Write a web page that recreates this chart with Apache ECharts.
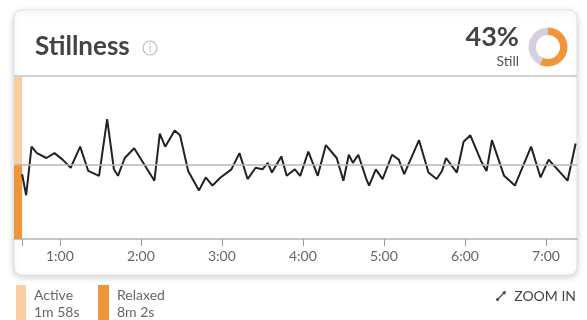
<!DOCTYPE html>
<html>
<head>
<meta charset="utf-8">
<script src="https://cdn.jsdelivr.net/npm/echarts@6/dist/echarts.min.js"></script>
<style>
  html, body { margin: 0; padding: 0; background: #fff; }
  #chart { width: 587px; height: 320px; }
</style>
</head>
<body>
<div id="chart"></div>
<script>
// time (s) of each stillness sample
var secs = [32, 35, 39, 43, 50, 56, 62, 68, 75, 81, 89, 95, 100, 103, 108, 115,
  130, 134, 138, 145, 149, 155, 163, 168, 173, 179, 187, 193, 199, 205, 210, 214,
  217, 224, 228, 234, 238, 244, 251, 257, 265, 270, 274, 277, 281, 287, 289, 294,
  299, 306, 311, 315, 326, 333, 339, 343, 346, 354, 359, 364, 372, 376, 380, 389,
  397, 409, 416, 422, 436, 442]
// stillness score 0..100
var stillness = [40, 27, 57, 53, 50, 53, 49, 44, 57, 42, 39, 74, 43, 39, 50, 56,
  36, 65, 57, 67, 64, 42, 30, 38, 33, 38, 43, 53, 37, 44, 43, 47,
  41, 51, 39, 43, 39, 54, 39, 58, 50, 36, 52, 47, 52, 37, 33, 43,
  37, 52, 49, 40, 61, 41, 37, 42, 50, 41, 60, 64, 48, 42, 61, 39,
  33, 57, 38, 49, 36, 59]
var threshold = 46
var tickSecs = [32, 60, 120, 180, 240, 300, 360, 420]
var labelSecs = [60, 120, 180, 240, 300, 360, 420]
var tickLabels = ['1:00', '2:00', '3:00', '4:00', '5:00', '6:00', '7:00']
var donutNames = ['Moving', 'Still']
var donutValues = [57, 43]

var orange = '#f1953a'
var lightOrange = '#f8cfa2'
var font = 'Lato'

var chart = echarts.init(document.getElementById('chart'))

var option = {
  animation: false,
  backgroundColor: '#fff',
  grid: {
    left: 14,
    right: 10,
    top: 77,
    bottom: 81
  },
  xAxis: {
    type: 'value',
    min: 26,
    max: 443,
    axisLine: { show: true, lineStyle: { color: '#c6c6c6', width: 2 } },
    axisTick: {
      show: true,
      customValues: tickSecs,
      length: 7,
      lineStyle: { color: '#9a9a9a', width: 1 }
    },
    axisLabel: {
      customValues: labelSecs,
      formatter: function (v) {
        return tickLabels[labelSecs.indexOf(v)]
      },
      color: '#666',
      fontSize: 14,
      fontFamily: font,
      margin: 10
    },
    splitLine: { show: false }
  },
  yAxis: {
    type: 'value',
    min: 0,
    max: 100,
    show: false
  },
  series: [
    {
      name: 'Stillness',
      type: 'line',
      symbol: 'none',
      data: secs.map(function (s, i) { return [s, stillness[i]] }),
      lineStyle: { color: '#222', width: 2 },
      markLine: {
        silent: true,
        symbol: 'none',
        label: { show: false },
        lineStyle: { color: '#b8b8b8', type: 'solid', width: 1.5 },
        data: [{ yAxis: threshold }]
      },
      markArea: {
        silent: true,
        data: [
          [{ xAxis: 26, yAxis: threshold, itemStyle: { color: lightOrange } }, { xAxis: 32, yAxis: 100 }],
          [{ xAxis: 26, yAxis: 0, itemStyle: { color: orange } }, { xAxis: 32, yAxis: threshold }]
        ]
      }
    },
    {
      type: 'pie',
      silent: true,
      center: [548, 47],
      radius: [12, 19.5],
      startAngle: 90,
      clockwise: true,
      label: { show: false },
      labelLine: { show: false },
      data: [
        { name: donutNames[0], value: donutValues[0], itemStyle: { color: orange } },
        { name: donutNames[1], value: donutValues[1], itemStyle: { color: '#d6cfe0' } }
      ]
    }
  ],
  graphic: [
    // card
    {
      type: 'rect',
      z: -10,
      shape: { x: 14, y: 10, width: 563, height: 265, r: 8 },
      style: {
        fill: '#fff',
        stroke: '#e2e2e2',
        lineWidth: 1,
        shadowBlur: 6,
        shadowOffsetY: 2,
        shadowColor: 'rgba(0,0,0,0.18)'
      }
    },
    // header separator
    {
      type: 'line',
      z: 5,
      shape: { x1: 14, y1: 76, x2: 577, y2: 76 },
      style: { stroke: '#d2d2d2', lineWidth: 2 }
    },
    {
      type: 'text',
      x: 35,
      y: 47,
      style: { text: 'Stillness', font: 'bold 26px ' + font, fill: '#444', verticalAlign: 'middle' }
    },
    // info icon
    {
      type: 'circle',
      shape: { cx: 150, cy: 48, r: 7 },
      style: { fill: 'none', stroke: '#bdbdbd', lineWidth: 1.2 }
    },
    {
      type: 'text',
      x: 150,
      y: 48,
      style: { text: 'i', font: '11px ' + font, fill: '#bdbdbd', align: 'center', verticalAlign: 'middle' }
    },
    {
      type: 'text',
      x: 519,
      y: 37,
      style: { text: donutValues[1] + '%', font: 'bold 27px ' + font, fill: '#444', align: 'right', verticalAlign: 'middle' }
    },
    {
      type: 'text',
      x: 519,
      y: 61,
      style: { text: 'Still', font: '14px ' + font, fill: '#555', align: 'right', verticalAlign: 'middle' }
    },
    // bottom legend
    {
      type: 'rect',
      shape: { x: 16, y: 285, width: 10, height: 40 },
      style: { fill: lightOrange }
    },
    {
      type: 'text',
      x: 34,
      y: 295,
      style: { text: 'Active', font: '14px ' + font, fill: '#666', verticalAlign: 'middle' }
    },
    {
      type: 'text',
      x: 34,
      y: 312,
      style: { text: '1m 58s', font: '14px ' + font, fill: '#666', verticalAlign: 'middle' }
    },
    {
      type: 'rect',
      shape: { x: 98, y: 285, width: 11, height: 40 },
      style: { fill: orange }
    },
    {
      type: 'text',
      x: 117,
      y: 295,
      style: { text: 'Relaxed', font: '14px ' + font, fill: '#666', verticalAlign: 'middle' }
    },
    {
      type: 'text',
      x: 117,
      y: 312,
      style: { text: '8m 2s', font: '14px ' + font, fill: '#666', verticalAlign: 'middle' }
    },
    // zoom in link
    {
      type: 'line',
      shape: { x1: 498, y1: 299, x2: 505, y2: 292 },
      style: { stroke: '#444', lineWidth: 1.2 }
    },
    {
      type: 'circle',
      shape: { cx: 497.5, cy: 299.5, r: 1.5 },
      style: { fill: '#444' }
    },
    {
      type: 'polygon',
      shape: { points: [[506, 291], [502, 292], [505, 295]] },
      style: { fill: '#444' }
    },
    {
      type: 'text',
      x: 576,
      y: 296,
      style: { text: 'ZOOM IN', font: '14px ' + font, fill: '#444', align: 'right', verticalAlign: 'middle' }
    }
  ]
}

chart.setOption(option)
window.addEventListener('resize', function () {
  chart.resize()
})
</script>
</body>
</html>
